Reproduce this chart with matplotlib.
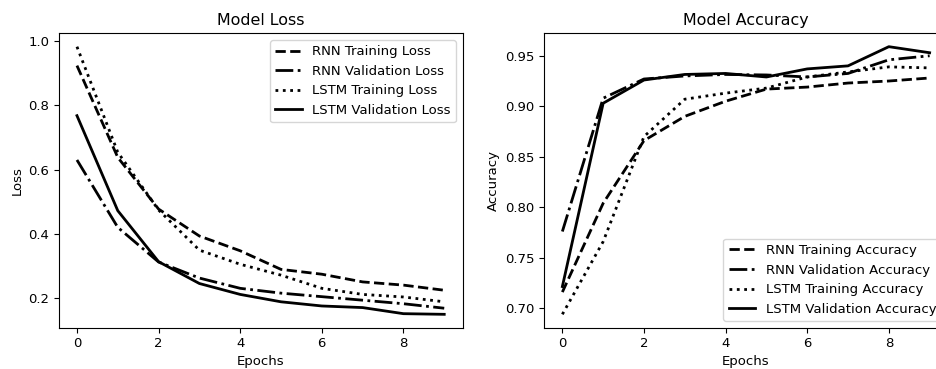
import matplotlib
matplotlib.use("Agg")
import matplotlib.pyplot as plt

epochs = list(range(10))

rnn_train_loss = [0.924, 0.638, 0.477, 0.393, 0.347, 0.289, 0.274, 0.250, 0.240, 0.224]
rnn_val_loss = [0.630, 0.420, 0.312, 0.262, 0.230, 0.215, 0.204, 0.193, 0.182, 0.168]
lstm_train_loss = [0.983, 0.654, 0.474, 0.349, 0.305, 0.271, 0.230, 0.211, 0.203, 0.188]
lstm_val_loss = [0.768, 0.472, 0.313, 0.245, 0.211, 0.188, 0.175, 0.170, 0.151, 0.149]

rnn_train_acc = [0.716, 0.804, 0.866, 0.890, 0.905, 0.917, 0.919, 0.923, 0.925, 0.928]
rnn_val_acc = [0.776, 0.908, 0.927, 0.930, 0.9315, 0.931, 0.929, 0.9325, 0.946, 0.950]
lstm_train_acc = [0.694, 0.766, 0.870, 0.907, 0.913, 0.918, 0.929, 0.934, 0.939, 0.938]
lstm_val_acc = [0.7215, 0.903, 0.926, 0.9315, 0.9325, 0.929, 0.937, 0.940, 0.959, 0.953]

plt.rcParams["font.size"] = 9.5
plt.rcParams["axes.titlesize"] = 11.4
plt.rcParams["xtick.major.size"] = 3.3
plt.rcParams["ytick.major.size"] = 3.3
plt.rcParams["axes.labelpad"] = 3.5

W, H = 936, 369
fig = plt.figure(figsize=(W / 100, H / 100), dpi=100)
ax1 = fig.add_axes([58.6 / W, (H - 327.7) / H, 404 / W, 294.4 / H])
ax2 = fig.add_axes([544 / W, (H - 327.7) / H, 404 / W, 294.4 / H])

lw = 2
ax1.plot(epochs, rnn_train_loss, color="black", ls="--", lw=lw, label="RNN Training Loss")
ax1.plot(epochs, rnn_val_loss, color="black", ls="-.", lw=lw, label="RNN Validation Loss")
ax1.plot(epochs, lstm_train_loss, color="black", ls=":", lw=lw, label="LSTM Training Loss")
ax1.plot(epochs, lstm_val_loss, color="black", ls="-", lw=lw, label="LSTM Validation Loss")
ax1.set_title("Model Loss")
ax1.set_xlabel("Epochs")
ax1.set_ylabel("Loss")
ax1.legend(loc="upper right")

ax2.plot(epochs, rnn_train_acc, color="black", ls="--", lw=lw, label="RNN Training Accuracy")
ax2.plot(epochs, rnn_val_acc, color="black", ls="-.", lw=lw, label="RNN Validation Accuracy")
ax2.plot(epochs, lstm_train_acc, color="black", ls=":", lw=lw, label="LSTM Training Accuracy")
ax2.plot(epochs, lstm_val_acc, color="black", ls="-", lw=lw, label="LSTM Validation Accuracy")
ax2.set_title("Model Accuracy")
ax2.set_xlabel("Epochs")
ax2.set_ylabel("Accuracy")
ax2.legend(loc="lower right")

fig.savefig("out.png", dpi=100)
